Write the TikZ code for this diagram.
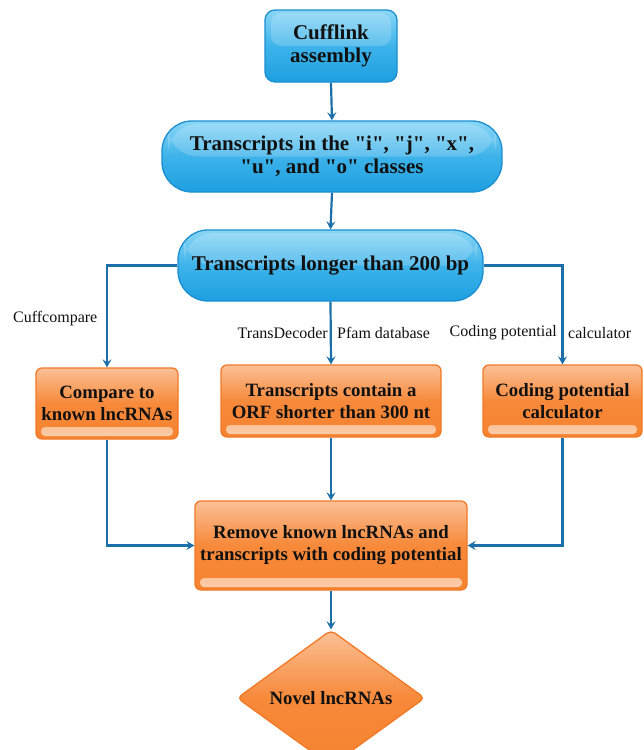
\documentclass[tikz,border=0pt]{standalone}
\usepackage{fontspec}
\setmainfont{Liberation Serif}[Ligatures=TeXOff]
\usetikzlibrary{arrows.meta,shapes.geometric,positioning}
\definecolor{bluetop}{HTML}{8AD6F6}
\definecolor{bluemid}{HTML}{3DB3EA}
\definecolor{bluebot}{HTML}{1E9FE0}
\definecolor{blueedge}{HTML}{1A8ED0}
\definecolor{orgtop}{HTML}{FBC096}
\definecolor{orgmid}{HTML}{F7893A}
\definecolor{orgbot}{HTML}{F68330}
\definecolor{orglight}{HTML}{FCCFAE}
\definecolor{orgedge}{HTML}{F07A26}
\definecolor{linecol}{HTML}{1C6FA8}
\definecolor{txt}{HTML}{111111}
\tikzset{
  boxtext/.style={font=\fontsize{18.8}{22}\selectfont\bfseries, text=txt, align=center, inner sep=0pt},
  bluetext/.style={font=\fontsize{21}{23}\selectfont\bfseries},
  bluebox/.style={boxtext, bluetext, draw=blueedge, line width=1.3pt, top color=bluetop, bottom color=bluebot, middle color=bluemid,
    path picture={\fill[white,opacity=0.18] ([xshift=6pt,yshift=-3pt]path picture bounding box.north west) rectangle ([xshift=-6pt]path picture bounding box.east);}},
  orangebox/.style={boxtext, draw=orgedge, line width=1.3pt, top color=orgtop, bottom color=orgbot, middle color=orgmid, rounded corners=6pt,
    path picture={\shade[top color=orgbot, bottom color=orglight, rounded corners=4pt] ([xshift=5pt,yshift=3pt]path picture bounding box.south west) rectangle ([xshift=-5pt,yshift=12pt]path picture bounding box.south east);}},
  conn/.style={draw=linecol, line width=2.2pt},
  arr/.style={conn, -{Stealth[length=8pt,width=9pt,inset=3pt]}},
  lbl/.style={font=\fontsize{16}{18}\selectfont, text=txt, inner sep=0pt}
}
\begin{document}
\begin{tikzpicture}[x=1pt,y=-1pt]
\useasboundingbox (0,0) rectangle (643,750);

\node[bluebox, rounded corners=10pt, minimum width=132pt, minimum height=72pt] (b1) at (331,46) {Cufflink\\assembly};
\node[bluebox, rounded corners=30pt, minimum width=340pt, minimum height=71pt] (b2) at (332,156.5) {Transcripts in the "i", "j", "x",\\"u", and "o" classes};
\node[bluebox, rounded corners=30pt, minimum width=305pt, minimum height=71pt] (b3) at (330.5,265.5) {Transcripts longer than 200 bp};

\node[orangebox, minimum width=142pt, minimum height=71pt] (b4) at (107,403.5) {Compare to\\known lncRNAs};
\node[orangebox, minimum width=220pt, minimum height=72pt] (b5) at (331,401) {Transcripts contain a\\ORF shorter than 300 nt};
\node[orangebox, minimum width=159pt, minimum height=72pt] (b6) at (562.5,401) {Coding potential\\calculator};
\node[orangebox, minimum width=272pt, minimum height=89pt] (b7) at (331,545.5) {Remove known lncRNAs and\\transcripts with coding potential};

\node[boxtext, shape=diamond, draw=orgedge, line width=1.3pt, top color=orgtop, bottom color=orgbot, middle color=orgmid,
      rounded corners=5pt, minimum width=188pt, minimum height=106pt] (d) at (331,698) {Novel lncRNAs};

\node[lbl, anchor=west] (l1) at (13,319) {Cuffcompare};
\node[lbl, anchor=east] (l2) at (328,333) {TransDecoder};
\node[lbl, anchor=west] (l3) at (337,333) {Pfam database};
\node[lbl, anchor=east] (l4) at (557,333) {Coding potential};
\node[lbl, anchor=west] (l5) at (568,333) {calculator};

\draw[arr] (b1.south) -- (b2.north);
\draw[arr] (b2.south) -- (b3.north);
\draw[arr] (b3.west) -| (b4.north);
\draw[arr] (b3.east) -| (b6.north);
\draw[arr] (b3.south) -- (b5.north);
\draw[arr] (b4.south) |- (b7.west);
\draw[arr] (b6.south) |- (b7.east);
\draw[arr] (b5.south) -- (b7.north);
\draw[arr] (b7.south) -- (d.north);
\end{tikzpicture}
\end{document}
